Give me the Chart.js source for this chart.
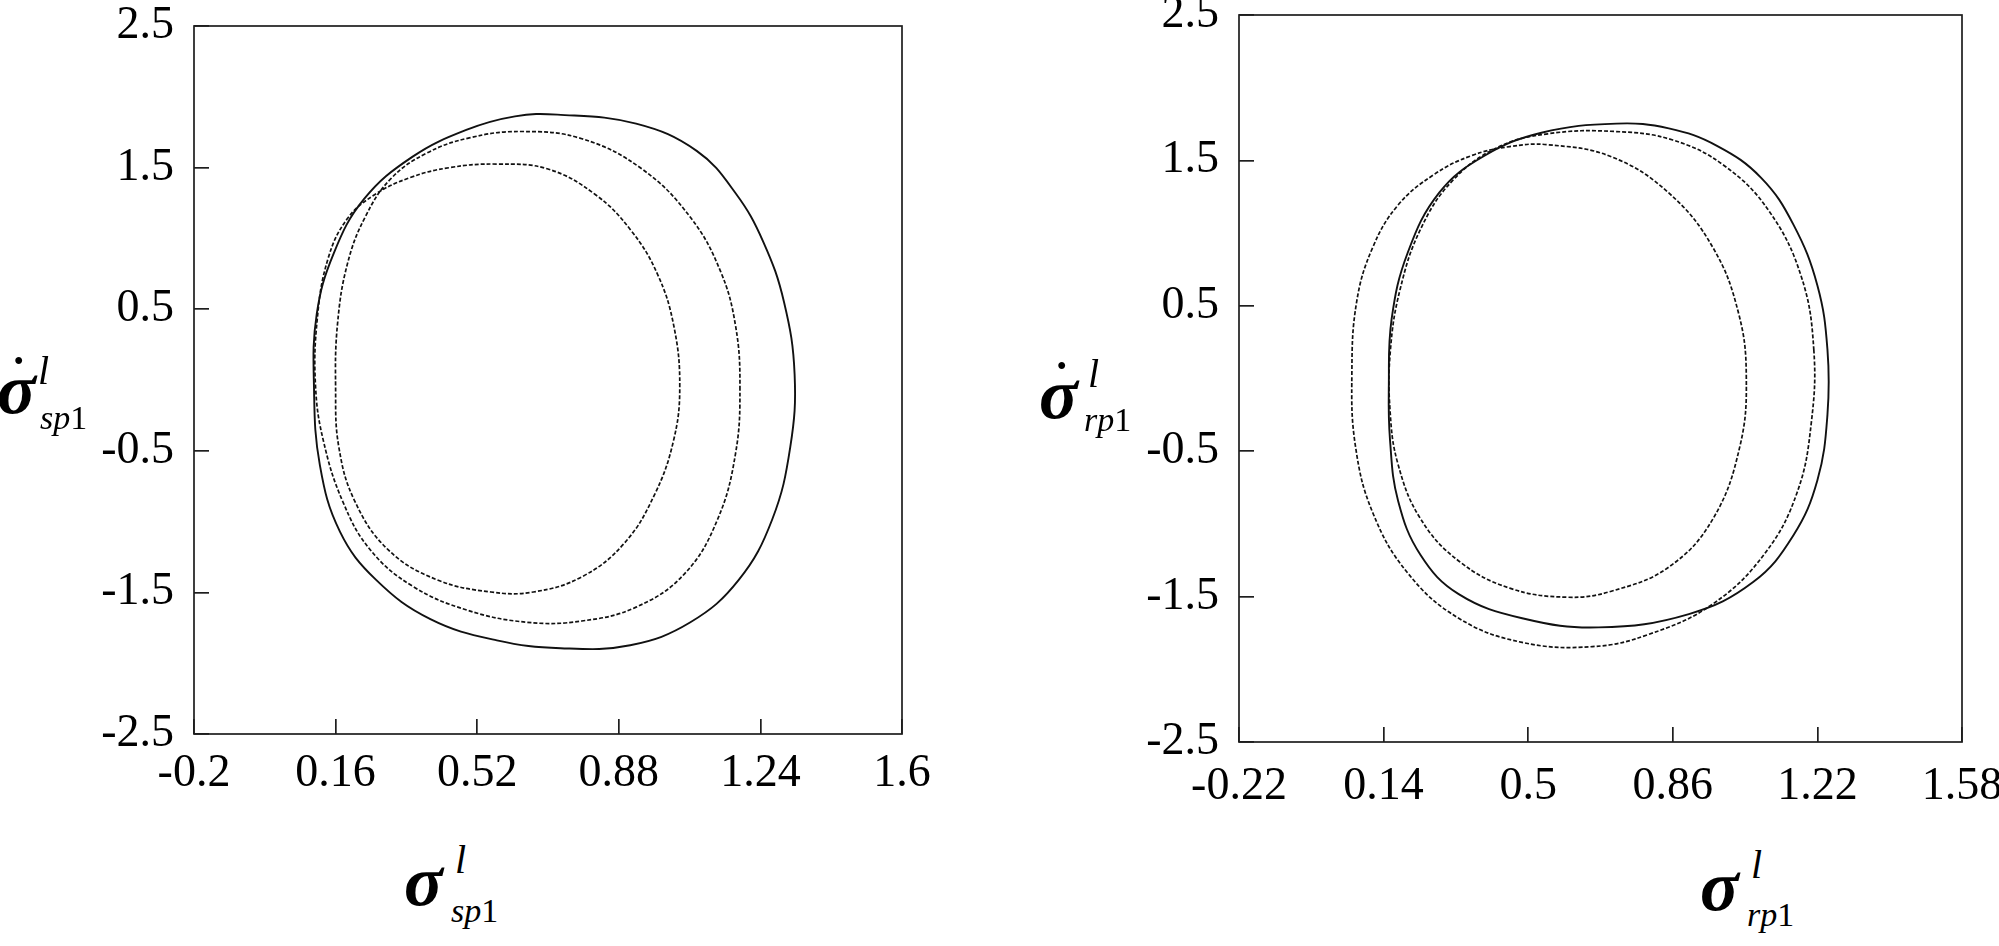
<!DOCTYPE html>
<html lang="en">
<head>
<meta charset="UTF-8" />
<title>Phase portraits</title>
<script src="https://cdn.jsdelivr.net/npm/chart.js"></script>
<style>
    body { margin: 0; background: #fff; overflow: hidden; width: 1999px; height: 946px; position: relative; font-family: "Liberation Serif", serif; }
    .box { position: absolute; }
    .t { position: absolute; line-height: 1; white-space: nowrap; color: #000; }
    .sym { font-size: 72px; font-style: italic; font-weight: bold; }
    .sup { font-size: 40px; font-style: italic; }
    .sub { font-size: 34px; }
    .sub i { font-style: italic; }
    .dot { font-size: 46px; font-weight: bold; }
</style>
</head>
<body>
<div class="box" style="left:0;top:0;width:960px;height:800px"><canvas id="leftChart"></canvas></div>
<div class="box" style="left:1000px;top:0;width:999px;height:800px"><canvas id="rightChart"></canvas></div>

<!-- left y title -->
<span class="t sym" style="left:-3px;top:353px">σ</span>
<span class="t dot" style="left:11px;top:351px">˙</span>
<span class="t sup" style="left:38px;top:351px">l</span>
<span class="t sub" style="left:40px;top:401px"><i>sp</i>1</span>
<!-- left x title -->
<span class="t sym" style="left:404px;top:845px">σ</span>
<span class="t sup" style="left:455px;top:840px">l</span>
<span class="t sub" style="left:451px;top:894px"><i>sp</i>1</span>
<!-- right y title -->
<span class="t sym" style="left:1039px;top:358px">σ</span>
<span class="t dot" style="left:1054px;top:356px">˙</span>
<span class="t sup" style="left:1088px;top:354px">l</span>
<span class="t sub" style="left:1084px;top:403px"><i>rp</i>1</span>
<!-- right x title -->
<span class="t sym" style="left:1700px;top:850px">σ</span>
<span class="t sup" style="left:1751px;top:845px">l</span>
<span class="t sub" style="left:1747px;top:898px"><i>rp</i>1</span>

<script>
// tick values and labels
const yTicks = [-2.5, -1.5, -0.5, 0.5, 1.5, 2.5];
const yLabels = ['-2.5', '-1.5', '-0.5', '0.5', '1.5', '2.5'];
const leftXTicks = [-0.2, 0.16, 0.52, 0.88, 1.24, 1.6];
const leftXLabels = ['-0.2', '0.16', '0.52', '0.88', '1.24', '1.6'];
const rightXTicks = [-0.22, 0.14, 0.5, 0.86, 1.22, 1.58];
const rightXLabels = ['-0.22', '0.14', '0.5', '0.86', '1.22', '1.58'];

// left panel: solid outer orbit
const leftSolidX = [1.327, 1.316, 1.270, 1.185, 1.062, 0.909, 0.732, 0.570, 0.401, 0.263, 0.171, 0.120, 0.105,
    0.112, 0.155, 0.232, 0.355, 0.494, 0.616, 0.724, 0.924, 1.078, 1.177, 1.247, 1.300];
const leftSolidY = [0.039, -0.473, -0.985, -1.412, -1.711, -1.873, -1.894, -1.839, -1.689, -1.412, -1.071, -0.601, -0.046,
    0.466, 0.893, 1.277, 1.576, 1.768, 1.862, 1.874, 1.810, 1.618, 1.319, 0.978, 0.551];
// left panel: dotted double loop
const leftDotX = [1.188, 1.177, 1.131, 1.047, 0.924, 0.786, 0.647, 0.494, 0.355, 0.248, 0.178, 0.129, 0.109,
    0.113, 0.140, 0.190, 0.260, 0.350, 0.450, 0.570,
    0.700, 0.820, 0.910, 0.978, 1.020, 1.035, 1.019, 0.970, 0.893, 0.786, 0.663, 0.555, 0.417, 0.294, 0.209, 0.168, 0.160,
    0.165, 0.190, 0.235, 0.300, 0.390, 0.500, 0.632,
    0.786, 0.939, 1.062, 1.139, 1.177];
const leftDotY = [-0.046, -0.516, -0.985, -1.369, -1.604, -1.702, -1.711, -1.625, -1.455, -1.199, -0.857, -0.430, -0.046,
    0.420, 0.850, 1.140, 1.310, 1.430, 1.500, 1.525,
    1.490, 1.310, 1.060, 0.750, 0.380, -0.050, -0.430, -0.815, -1.156, -1.390, -1.497, -1.497, -1.410, -1.200, -0.857, -0.470, -0.050,
    0.400, 0.820, 1.150, 1.420, 1.600, 1.710, 1.755,
    1.704, 1.490, 1.149, 0.765, 0.380];

// right panel: solid orbit
const rightSolidX = [1.245, 1.245, 1.220, 1.160, 1.060, 0.900, 0.675, 0.485, 0.327, 0.232, 0.176, 0.156, 0.153,
    0.160, 0.200, 0.279, 0.390, 0.533, 0.720, 0.850, 0.970, 1.080, 1.160, 1.220];
const rightSolidY = [0.200, -0.250, -0.700, -1.080, -1.400, -1.620, -1.712, -1.649, -1.483, -1.214, -0.840, -0.425, -0.050,
    0.410, 0.865, 1.280, 1.530, 1.690, 1.753, 1.720, 1.600, 1.380, 1.060, 0.640];
// right panel: dotted double loop
const rightDotX = [1.211, 1.205, 1.170, 1.090, 0.960, 0.800, 0.660, 0.485, 0.327, 0.200, 0.113, 0.070, 0.061,
    0.073, 0.113, 0.176, 0.264, 0.359, 0.454, 0.549, 0.707, 0.850, 0.960, 1.024, 1.043, 1.027, 0.960, 0.850,
    0.707, 0.596, 0.454, 0.327, 0.232, 0.176, 0.156, 0.157, 0.181, 0.232, 0.311, 0.422, 0.549, 0.715, 0.860,
    0.990, 1.100, 1.180];
const rightDotY = [0.200, -0.300, -0.780, -1.200, -1.550, -1.760, -1.844, -1.815, -1.649, -1.338, -0.923, -0.467, 0.031,
    0.529, 0.902, 1.193, 1.400, 1.533, 1.595, 1.608, 1.525, 1.276, 0.900, 0.446, 0.010, -0.467, -0.965, -1.297,
    -1.463, -1.504, -1.442, -1.255, -0.965, -0.591, -0.218, 0.197, 0.612, 1.027, 1.359, 1.587, 1.683, 1.699, 1.640,
    1.460, 1.150, 0.700];

// wrap the orbit so the spline closes smoothly; the two wrap segments are hidden
function loop(xs, ys) {
    const pts = xs.map((x, i) => ({ x: x, y: ys[i] }));
    const n = pts.length;
    return [pts[n - 1], ...pts, pts[0], pts[1]];
}

function orbit(xs, ys, width, dash) {
    const data = loop(xs, ys);
    const last = data.length - 1;
    return {
        data: data, showLine: true, tension: 0.4, pointRadius: 0,
        borderColor: '#111', borderWidth: width, borderDash: dash,
        segment: {
            borderColor: c => (c.p0DataIndex === 0 || c.p1DataIndex === last) ? 'rgba(0,0,0,0)' : '#111'
        }
    };
}

const framePlugin = {
    id: 'frame',
    afterDraw(chart) {
        const { ctx, chartArea: a } = chart;
        ctx.save();
        ctx.strokeStyle = '#1e1e1e';
        ctx.lineWidth = 1.7;
        ctx.strokeRect(a.left, a.top, a.right - a.left, a.bottom - a.top);
        ctx.restore();
    }
};

const tickFont = { family: 'Liberation Serif', size: 46 };

function makeChart(id, o) {
    return new Chart(document.getElementById(id), {
        type: 'scatter',
        data: {
            datasets: [
                orbit(o.solidX, o.solidY, 1.9, []),
                orbit(o.dotX, o.dotY, 1.7, [4, 2])
            ]
        },
        options: {
            responsive: true,
            maintainAspectRatio: false,
            animation: false,
            layout: { padding: o.padding },
            plugins: { legend: { display: false }, tooltip: { enabled: false } },
            scales: {
                x: {
                    type: 'linear', min: o.xTicks[0], max: o.xTicks[o.xTicks.length - 1],
                    afterBuildTicks: s => { s.ticks = o.xTicks.map(v => ({ value: v })); },
                    afterFit: s => { s.height = o.xHeight; s.paddingLeft = 0; s.paddingRight = 0; },
                    ticks: { callback: (v, i) => o.xLabels[i], color: '#000', font: tickFont,
                             padding: o.xPad, maxRotation: 0, autoSkip: false },
                    grid: { display: true, drawOnChartArea: false, drawTicks: true, tickLength: -15,
                            color: '#1e1e1e', lineWidth: 1.7 },
                    border: { display: false }
                },
                y: {
                    type: 'linear', min: -2.5, max: 2.5,
                    afterBuildTicks: s => { s.ticks = yTicks.map(v => ({ value: v })); },
                    afterFit: s => { s.width = o.yWidth; s.paddingTop = 0; s.paddingBottom = 0; },
                    ticks: { callback: (v, i) => yLabels[i], color: '#000', font: tickFont,
                             padding: 35, autoSkip: false },
                    grid: { display: true, drawOnChartArea: false, drawTicks: true, tickLength: -15,
                            color: '#1e1e1e', lineWidth: 1.7 },
                    border: { display: false }
                }
            }
        },
        plugins: [framePlugin]
    });
}

makeChart('leftChart', {
    solidX: leftSolidX, solidY: leftSolidY, dotX: leftDotX, dotY: leftDotY,
    xTicks: leftXTicks, xLabels: leftXLabels,
    padding: { top: 26, right: 58, bottom: 0, left: 0 }, yWidth: 194, xHeight: 66, xPad: 27
});

makeChart('rightChart', {
    solidX: rightSolidX, solidY: rightSolidY, dotX: rightDotX, dotY: rightDotY,
    xTicks: rightXTicks, xLabels: rightXLabels,
    padding: { top: 15, right: 37, bottom: 0, left: 0 }, yWidth: 239, xHeight: 58, xPad: 32
});
</script>
</body>
</html>
